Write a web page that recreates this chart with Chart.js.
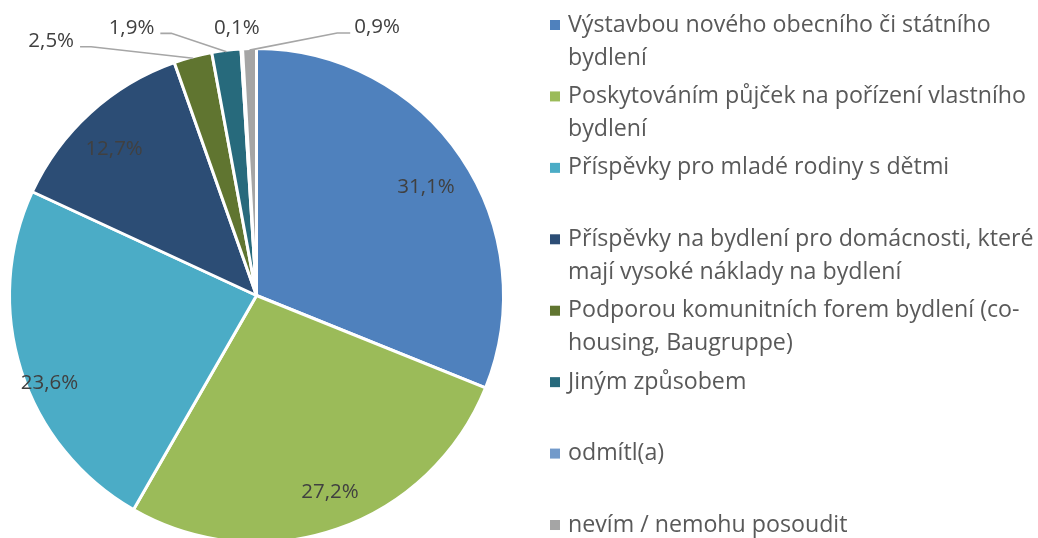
<!DOCTYPE html>
<html><head><meta charset="utf-8">
<script src="https://cdn.jsdelivr.net/npm/chart.js@4"></script>
<style>html,body{margin:0;padding:0;background:#fff}#wrap{width:1038px;height:538px;overflow:hidden}</style>
</head><body><div id="wrap"><canvas id="c" width="1038" height="538"></canvas></div>
<script>
// ---- data ----
const categories = [
  ["Výstavbou nového obecního či státního", "bydlení"],
  ["Poskytováním půjček na pořízení vlastního", "bydlení"],
  ["Příspěvky pro mladé rodiny s dětmi"],
  ["Příspěvky na bydlení pro domácnosti, které", "mají vysoké náklady na bydlení"],
  ["Podporou komunitních forem bydlení (co-", "housing, Baugruppe)"],
  ["Jiným způsobem"],
  ["odmítl(a)"],
  ["nevím / nemohu posoudit"]
];
const values = [31.1, 27.2, 23.6, 12.7, 2.5, 1.9, 0.1, 0.9];
const colors = ["#4F81BD", "#9BBB59", "#4BACC6", "#2C4D75", "#607530", "#276A7C", "#729ACA", "#A5A5A5"];

// ---- style ----
const FONT = '"Open Sans", sans-serif';
const LABEL_SIZE = 20.5;
const LEGEND_SIZE = 23.2;
const insideLabel = {0:{f:0.815,da:1.4},1:{f:0.85,da:-1.4},2:{f:0.91,da:-5.3},3:{f:0.827,da:-1.9}};
const outsideLabel = {4:{dx:-142,dy:-17,side:'left'},5:{dx:-95,dy:-24,side:'left'},6:{dx:-5,dy:-22,side:null},7:{dx:127.5,dy:-22.6,side:'right'}};

const fmt = v => v.toFixed(1).replace('.', ',') + '%';

const labelPlugin = {
  id: 'pieLabels',
  afterDatasetsDraw(chart) {
    const ctx = chart.ctx;
    const meta = chart.getDatasetMeta(0);
    ctx.save();
    ctx.font = LABEL_SIZE + 'px ' + FONT;
    ctx.fillStyle = '#404040';
    ctx.textAlign = 'center';
    ctx.textBaseline = 'middle';
    meta.data.forEach((el, i) => {
      const p = el.getProps(['x','y','startAngle','endAngle','outerRadius'], true);
      const mid = (p.startAngle + p.endAngle) / 2;
      const R = p.outerRadius;
      const txt = fmt(values[i]);
      if (insideLabel[i]) {
        const o = insideLabel[i];
        const a = mid + o.da * Math.PI / 180;
        ctx.fillText(txt, p.x + Math.cos(a) * R * o.f, p.y + Math.sin(a) * R * o.f);
      } else if (outsideLabel[i]) {
        const o = outsideLabel[i];
        const ex = p.x + Math.cos(mid) * (R - 1.5), ey = p.y + Math.sin(mid) * (R - 1.5);
        const tx = ex + o.dx, ty = ey + o.dy;
        ctx.fillText(txt, tx, ty);
        if (o.side) {
          const w = ctx.measureText(txt).width;
          const ly = ty + 5.5;
          let s, e;
          if (o.side === 'left') { s = tx + w / 2 + 6; e = s + 11; }
          else { s = tx - w / 2 - 4; e = s - 13; }
          ctx.beginPath();
          ctx.moveTo(s, ly); ctx.lineTo(e, ly); ctx.lineTo(ex, ey);
          ctx.strokeStyle = '#A6A6A6';
          ctx.lineWidth = 1.6;
          ctx.stroke();
        }
      }
    });
    ctx.restore();
  }
};

const legendPlugin = {
  id: 'sideLegend',
  afterDraw(chart) {
    const ctx = chart.ctx;
    const ds = chart.data.datasets[0];
    const x0 = 550, y0 = 25, step = 71.43, lh = 33, box = 10, tx = 568;
    ctx.save();
    ctx.font = LEGEND_SIZE + 'px ' + FONT;
    ctx.textAlign = 'left';
    ctx.textBaseline = 'middle';
    chart.data.labels.forEach((lab, i) => {
      const y = y0 + step * i;
      ctx.fillStyle = ds.backgroundColor[i];
      ctx.fillRect(x0, y - box / 2, box, box);
      ctx.fillStyle = '#595959';
      lab.forEach((line, j) => ctx.fillText(line, tx, y + j * lh));
    });
    ctx.restore();
  }
};

new Chart(document.getElementById('c'), {
  type: 'pie',
  data: {
    labels: categories,
    datasets: [{
      data: values,
      backgroundColor: colors,
      borderColor: '#FFFFFF',
      borderWidth: 3
    }]
  },
  options: {
    responsive: false,
    animation: false,
    radius: 247,
    layout: { padding: { left: 9, right: 534, top: 53, bottom: 0 } },
    plugins: {
      legend: { display: false },
      tooltip: { enabled: false }
    },
    events: []
  },
  plugins: [labelPlugin, legendPlugin]
});
</script>
</body></html>
